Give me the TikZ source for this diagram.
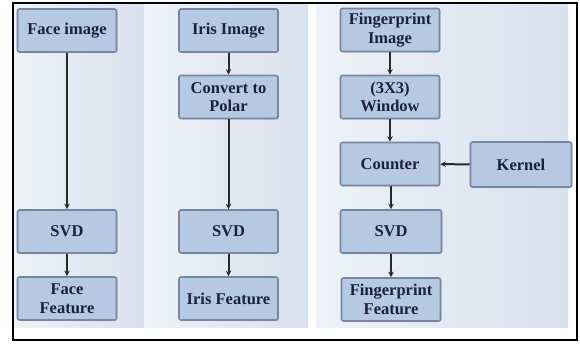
\documentclass[tikz,border=0pt]{standalone}
\usepackage{fontspec}
\setmainfont{Liberation Serif}
\usetikzlibrary{arrows.meta,shadows}
\definecolor{boxfill}{HTML}{B6C9E2}
\definecolor{boxline}{HTML}{7587A1}
\definecolor{boxtext}{HTML}{18223A}
\definecolor{arrowc}{HTML}{2A2A2A}
\definecolor{panelL}{HTML}{EEF2F8}
\definecolor{panelR}{HTML}{D8E1ED}
\begin{document}
\begin{tikzpicture}[x=1pt,y=-1pt,
  box/.style={draw=boxline, line width=1.6pt, fill=boxfill, rounded corners=2pt,
    minimum width=99pt, minimum height=43pt, inner sep=0pt, align=center,
    font=\bfseries\fontsize{16.5}{18.5}\selectfont, text=boxtext,
    drop shadow={shadow xshift=1pt, shadow yshift=-1pt, opacity=0.25}},
  arr/.style={-{Stealth[length=5.5pt,width=5.5pt]}, line width=2pt, draw=arrowc},
  panel/.style={left color=panelL, right color=panelR}]
\useasboundingbox (0,0) rectangle (580,343);
\fill[white] (0,0) rectangle (580,343);
% panels
\shade[panel] (13,3) rectangle (144,327);
\shade[panel] (144,3) rectangle (308,327);
\shade[panel] (316,3) rectangle (568,327);
% nodes
\node[box] (face) at (67,30.5) {Face image};
\node[box] (fsvd) at (67,231.5) {SVD};
\node[box] (ffeat) at (67,298.5) {Face\\Feature};
\node[box] (iris) at (228.5,30.5) {Iris Image};
\node[box] (polar) at (228.5,97) {Convert to\\Polar};
\node[box] (isvd) at (228.5,231.5) {SVD};
\node[box] (ifeat) at (228.5,298.5) {Iris Feature};
\node[box] (fimg) at (390,30) {Fingerprint\\Image};
\node[box] (win) at (390,97) {(3X3)\\Window};
\node[box] (counter) at (390,164) {Counter};
\node[box, minimum width=101pt, minimum height=45pt] (kernel) at (521,164.5) {Kernel};
\node[box, minimum width=101pt] (psvd) at (391,231.5) {SVD};
\node[box] (pfeat) at (391,299.5) {Fingerprint\\Feature};
% arrows
\draw[arr] (face) -- (fsvd);
\draw[arr] (fsvd) -- (ffeat);
\draw[arr] (iris) -- (polar);
\draw[arr] (polar) -- (isvd);
\draw[arr] (isvd) -- (ifeat);
\draw[arr] (fimg) -- (win);
\draw[arr] (win) -- (counter);
\draw[arr] (kernel) -- (counter);
\draw[arr] (counter.south -| psvd.north) -- (psvd);
\draw[arr] (psvd) -- (pfeat);
% frame
\draw[black, line width=1.5pt] (13,3) rectangle (577,340);
\end{tikzpicture}
\end{document}
